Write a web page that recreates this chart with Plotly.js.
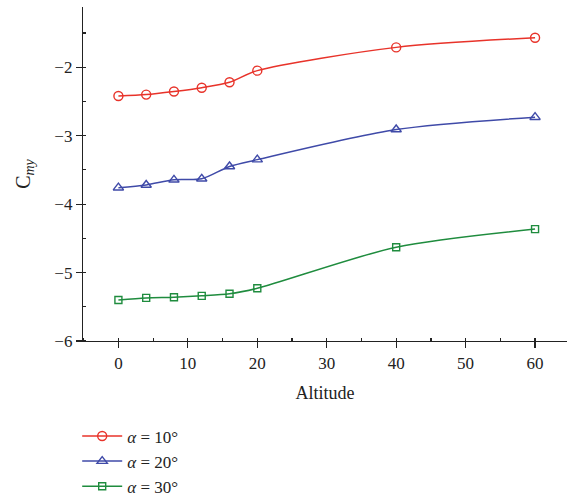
<!DOCTYPE html>
<html><head><meta charset="utf-8">
<script src="https://cdn.plot.ly/plotly-3.0.1.min.js"></script>
<style>body{margin:0;padding:0;background:#fff}#chart{width:567px;height:497px}</style>
</head><body><div id="chart"></div>
<script>
const altitude = [0, 4, 8, 12, 16, 20, 40, 60];
const cmyAlpha10 = [-2.42, -2.40, -2.355, -2.30, -2.22, -2.05, -1.71, -1.57];
const cmyAlpha20 = [-3.76, -3.72, -3.645, -3.63, -3.45, -3.35, -2.91, -2.73];
const cmyAlpha30 = [-5.40, -5.37, -5.36, -5.34, -5.31, -5.23, -4.63, -4.365];
const seriesNames = ['<i>α</i> = 10°', '<i>α</i> = 20°', '<i>α</i> = 30°'];

const font = 'Liberation Serif, DejaVu Serif, serif';
const colors = ['#e8332a', '#3f4aa8', '#1f8c3e'];
const symbols = ['circle-open', 'triangle-up-open', 'square-open'];
const sizes = [9, 9, 7];
const ys = [cmyAlpha10, cmyAlpha20, cmyAlpha30];

const traces = ys.map((y, i) => ({
  x: altitude, y: y, name: seriesNames[i], type: 'scatter', mode: 'lines+markers',
  line: {color: colors[i], width: 1.5, shape: 'spline', smoothing: 0.8},
  marker: {symbol: symbols[i], size: sizes[i], color: colors[i], line: {color: colors[i], width: 1.4}}
}));

const layout = {
  width: 567, height: 497,
  margin: {l: 83, r: 0, t: 7, b: 156},
  paper_bgcolor: '#fff', plot_bgcolor: '#fff',
  font: {family: font, size: 17, color: '#222'},
  showlegend: true,
  legend: {x: -0.012, xref: 'paper', y: 0.158, yref: 'container', xanchor: 'left', yanchor: 'top', orientation: 'v',
    font: {family: font, size: 17, color: '#222'}, tracegroupgap: 0, itemwidth: 40, bgcolor: 'rgba(0,0,0,0)'},
  xaxis: {
    range: [-5.1, 64.6], showgrid: false, zeroline: false,
    showline: true, linecolor: '#222', linewidth: 1.2,
    ticks: 'outside', ticklen: 6, tickcolor: '#222', tickwidth: 1.2,
    tickvals: [0, 10, 20, 30, 40, 50, 60],
    minor: {ticks: 'inside', ticklen: 3, tickcolor: '#222', dtick: 5, tick0: 5},
    title: {text: 'Altitude', font: {family: font, size: 18, color: '#222'}, standoff: 14},
    tickfont: {family: font, size: 17, color: '#222'}
  },
  yaxis: {
    range: [-6, -1.12], showgrid: false, zeroline: false,
    showline: true, linecolor: '#222', linewidth: 1.2,
    ticks: 'outside', ticklen: 6, tickcolor: '#222', tickwidth: 1.2,
    tickvals: [-6, -5, -4, -3, -2],
    minor: {ticks: 'inside', ticklen: 3, tickcolor: '#222', dtick: 0.5, tick0: -5.5},
    title: {text: 'C<sub><i>my</i></sub>', font: {family: font, size: 20, color: '#222'}, standoff: 18},
    tickfont: {family: font, size: 17, color: '#222'}
  }
};
Plotly.newPlot('chart', traces, layout, {displayModeBar: false, staticPlot: true});
</script></body></html>
